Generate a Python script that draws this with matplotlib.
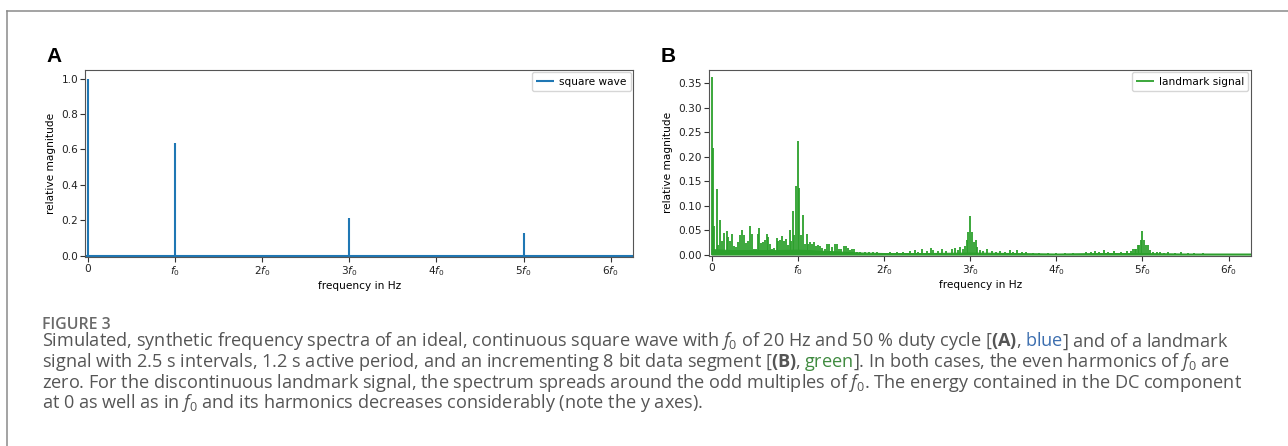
import matplotlib
matplotlib.use('Agg')
import matplotlib.pyplot as plt
from matplotlib.lines import Line2D

W, H = 1288, 446
f0 = 20  # Hz

# (A) ideal square wave: DC + odd harmonics
square_hz = [0, 20, 60, 100]
square_mag = [1.0, 0.637, 0.212, 0.127]

# (B) landmark signal: individual spectral lines
landmark_hz = [0.0, 0.3, 0.6, 1.2, 1.6, 2.0, 2.4, 2.9, 3.5, 3.9, 4.3, 4.8, 5.3, 5.7,
               6.1, 6.7, 7.1, 7.5, 8.0, 8.4, 8.9, 9.4, 9.8, 10.4, 10.8, 11.1, 11.5,
               11.9, 12.4, 12.8, 13.2, 13.6, 14.0, 14.6, 15.1, 15.5, 15.9, 16.4, 16.8,
               17.3, 17.7, 18.1, 18.5, 18.8, 19.2, 19.6, 20.0, 20.4, 20.8, 21.3, 21.7,
               22.1, 22.5, 22.9, 23.4, 23.8, 24.3, 24.7, 25.2, 25.6, 26.4, 26.9, 27.3,
               27.9, 28.6, 29.0, 29.5, 30.0, 30.8, 31.2, 31.6, 32.1, 32.5, 33.0, 33.8,
               34.5, 35.5, 36.5, 37.5, 38.5, 40.0, 41.5, 43.0, 44.5, 46.0, 47.2, 48.0,
               48.9, 50.0, 51.0, 51.5, 52.5, 53.5, 54.5, 55.8, 56.6, 57.2, 57.7, 58.3,
               58.8, 59.2, 59.6, 60.0, 60.4, 60.8, 61.3, 61.7, 62.2, 63.0, 64.0, 65.0,
               66.0, 67.0, 68.0, 69.2, 70.0, 70.9, 72.0, 73.0, 74.5, 76.0, 78.0, 80.0,
               82.0, 84.0, 86.9, 88.0, 89.0, 90.0, 91.1, 92.0, 93.5, 95.0, 96.5, 97.3,
               97.7, 98.2, 98.5, 98.9, 99.2, 99.6, 100.0, 100.4, 100.8, 101.2, 101.7,
               102.5, 103.3, 104.0, 105.0, 106.0, 107.5, 109.0, 110.5, 112.0, 114.0]
landmark_mag = [0.364, 0.217, 0.059, 0.133, 0.020, 0.070, 0.028, 0.045, 0.048, 0.036,
                0.028, 0.041, 0.017, 0.015, 0.026, 0.040, 0.050, 0.040, 0.024, 0.028,
                0.058, 0.043, 0.012, 0.011, 0.041, 0.055, 0.024, 0.025, 0.030, 0.043,
                0.036, 0.021, 0.011, 0.013, 0.033, 0.028, 0.030, 0.038, 0.028, 0.032,
                0.019, 0.050, 0.028, 0.090, 0.040, 0.141, 0.232, 0.136, 0.039, 0.081,
                0.022, 0.041, 0.021, 0.026, 0.022, 0.026, 0.017, 0.020, 0.017, 0.014,
                0.012, 0.021, 0.022, 0.015, 0.021, 0.022, 0.012, 0.011, 0.018, 0.017,
                0.014, 0.010, 0.012, 0.012, 0.006, 0.005, 0.006, 0.005, 0.005, 0.005,
                0.004, 0.005, 0.005, 0.006, 0.008, 0.010, 0.006, 0.012, 0.008, 0.014,
                0.009, 0.007, 0.012, 0.008, 0.012, 0.013, 0.009, 0.016, 0.011, 0.017,
                0.029, 0.047, 0.079, 0.047, 0.025, 0.029, 0.015, 0.010, 0.008, 0.011,
                0.007, 0.006, 0.008, 0.006, 0.010, 0.006, 0.010, 0.005, 0.006, 0.004,
                0.004, 0.003, 0.003, 0.003, 0.004, 0.006, 0.005, 0.007, 0.006, 0.009,
                0.006, 0.007, 0.006, 0.007, 0.008, 0.012, 0.012, 0.012, 0.019, 0.019,
                0.029, 0.048, 0.029, 0.019, 0.019, 0.010, 0.006, 0.006, 0.005, 0.004,
                0.005, 0.004, 0.005, 0.004, 0.004, 0.003]
# dense low-level floor under the lines
floor_hz = [0, 5, 10, 15, 20, 25, 30, 35, 40, 50, 60, 70, 80, 90, 100, 110, 125]
floor_mag = [0.011, 0.009, 0.009, 0.009, 0.010, 0.008, 0.006, 0.004, 0.003, 0.003,
             0.004, 0.003, 0.002, 0.003, 0.003, 0.002, 0.002]

harmonics = [0, 1, 2, 3, 4, 5, 6]
harmonic_labels = ['0', '$f_0$', '$2f_0$', '$3f_0$', '$4f_0$', '$5f_0$', '$6f_0$']

blue = '#1f77b4'
green = '#2ca02c'

plt.rcParams['font.size'] = 7.6
plt.rcParams['mathtext.rm'] = 'Open Sans'
plt.rcParams['mathtext.it'] = 'Open Sans:italic'
plt.rcParams['mathtext.bf'] = 'Open Sans:bold'

fig = plt.figure(figsize=(W / 100, H / 100), dpi=100)


def px_box(l, t, r, b):
    return [l / W, 1 - b / H, (r - l) / W, (b - t) / H]


axA = fig.add_axes(px_box(85.5, 69.7, 633.4, 256.6))
axB = fig.add_axes(px_box(709.4, 69.7, 1251, 256.0))

axA.vlines(square_hz, 0, square_mag, color=blue, lw=1.5, label='square wave')
axA.axhline(0, color=blue, lw=1.5)
axA.set_ylim(-0.004, 1.05)
axA.set_yticks([0, 0.2, 0.4, 0.6, 0.8, 1.0])

axB.fill_between(floor_hz, 0, floor_mag, color=green, lw=0.8)
axB.vlines(landmark_hz, 0, landmark_mag, color=green, lw=1.3, label='landmark signal')
axB.set_ylim(-0.003, 0.378)
axB.set_yticks([0, 0.05, 0.10, 0.15, 0.20, 0.25, 0.30, 0.35])

for ax in (axA, axB):
    ax.set_xlim(-0.5, 125.2)
    ax.set_xticks([h * f0 for h in harmonics])
    ax.set_xticklabels(harmonic_labels)
    ax.set_xlabel('frequency in Hz', labelpad=2)
    ax.set_ylabel('relative magnitude', labelpad=4)
    ax.tick_params(length=3.5, width=0.8, pad=1.8, color='#333', labelcolor='#222')
    for s in ax.spines.values():
        s.set_color('#555')
        s.set_linewidth(0.8)
    ax.legend(loc='upper right', borderaxespad=0.25, handlelength=1.65,
              handletextpad=0.5, borderpad=0.4)

# panel letters
fig.text(46 / W, 1 - 61.7 / H, 'A', family='Liberation Sans', weight='bold',
         fontsize=15, va='baseline')
fig.text(660.7 / W, 1 - 61.7 / H, 'B', family='Liberation Sans', weight='bold',
         fontsize=15, va='baseline')

# frame around figure (open to the right and bottom)
fig.add_artist(Line2D([7 / W, 1], [1 - 11 / H, 1 - 11 / H], transform=fig.transFigure,
                      color='#8a8a8a', lw=1.1))
fig.add_artist(Line2D([7 / W, 7 / W], [1 - 11 / H, 0], transform=fig.transFigure,
                      color='#8a8a8a', lw=1.1))

# caption: runs of (text, colour); bold parts use mathtext bold
cap_grey = '#555555'
caption_lines = [
    [("Simulated, synthetic frequency spectra of an ideal, continuous square wave with "
      "$f_0$ of 20 Hz and 50 % duty cycle [$\\mathbf{(A)}$, ", cap_grey),
     ("blue", '#3c6eaf'), ("] and of a landmark", cap_grey)],
    [("signal with 2.5 s intervals, 1.2 s active period, and an incrementing 8 bit data "
      "segment [$\\mathbf{(B)}$, ", cap_grey),
     ("green", '#3f8a3f'),
     ("]. In both cases, the even harmonics of $f_0$ are", cap_grey)],
    [("zero. For the discontinuous landmark signal, the spectrum spreads around the odd "
      "multiples of $f_0$. The energy contained in the DC component", cap_grey)],
    [("at 0 as well as in $f_0$ and its harmonics decreases considerably (note the y axes).",
      cap_grey)],
]
baselines = [346.5, 367.0, 387.5, 408.0]

renderer = fig.canvas.get_renderer()
CAP = dict(family='Open Sans', math_fontfamily='custom')


def run_width(s, size):
    # measure in mathtext mode on both sides so bearings cancel out
    t1 = fig.text(0, 0, '|' + s + '|$\\,$', fontsize=size, **CAP)
    t2 = fig.text(0, 0, '||$\\,$', fontsize=size, **CAP)
    w = t1.get_window_extent(renderer).width - t2.get_window_extent(renderer).width
    t1.remove()
    t2.remove()
    return w


# choose the size so that the first line spans the same width as in the original
ref = sum(run_width(s, 10) for s, c in caption_lines[0])
cap_size = 10 * 1183 / ref

x_start = 41.5
for runs, yb in zip(caption_lines, baselines):
    x = x_start
    for s, c in runs:
        fig.text(x / W, 1 - yb / H, s + '$\\,$', fontsize=cap_size, color=c,
                 va='baseline', **CAP)
        x += run_width(s, cap_size)

fig.text(x_start / W, 1 - 329 / H, 'FIGURE 3', family='Open Sans', weight='semibold',
         fontsize=cap_size * 0.88, color='#6a6a6a', va='baseline')

fig.savefig('out.png', dpi=100)
